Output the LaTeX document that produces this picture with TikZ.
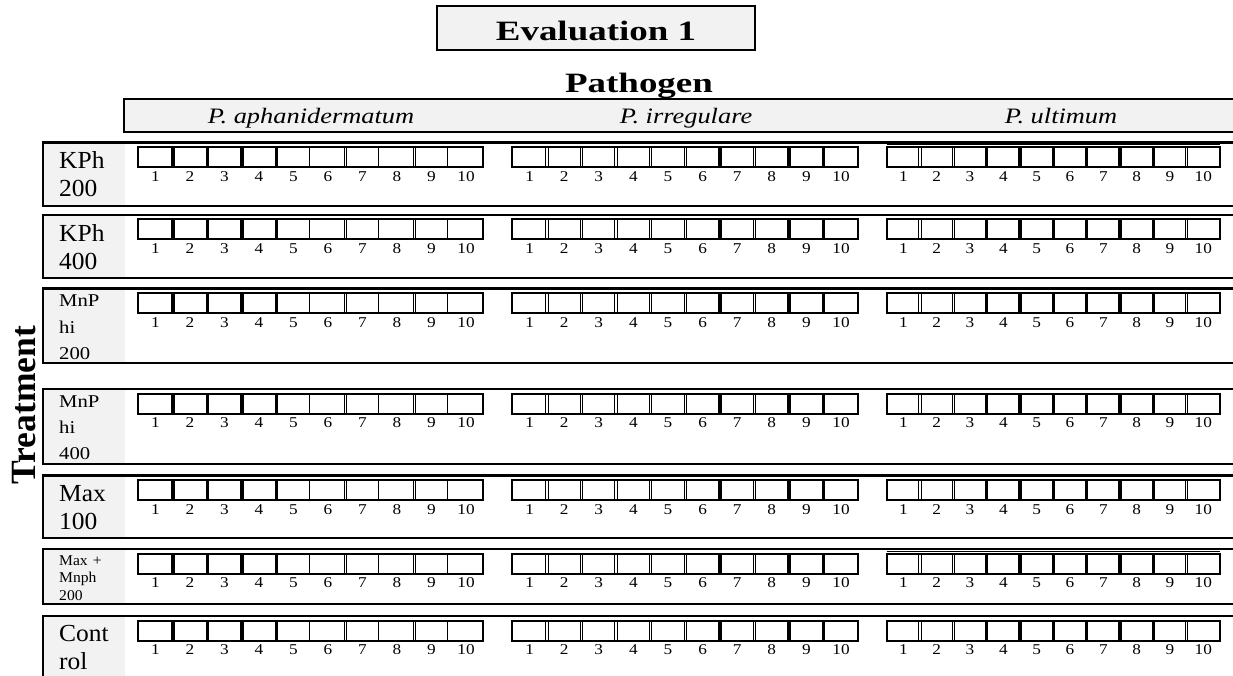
\documentclass[tikz,border=0pt]{standalone}
\usepackage{fontspec}
\setmainfont{Liberation Serif}
\newfontfamily\titlefont[FakeStretch=1.32]{Liberation Serif}
\newfontfamily\headfont[FakeStretch=1.2]{Liberation Serif}
\newfontfamily\numfont[FakeStretch=1.15]{Liberation Serif}
\newfontfamily\rowfont[FakeStretch=1.04]{Liberation Serif}
\newfontfamily\narrowfont[FakeStretch=1.15]{Liberation Serif}
\usetikzlibrary{positioning}
\definecolor{boxgray}{RGB}{242,242,242}

\tikzset{
  rowbox/.style={line width=2.4pt},
  cellbox/.style={line width=2pt},
  thicksep/.style={line width=3.4pt},
  dblsep/.style={double, double distance=1.5pt, line width=0.9pt},
  numlabel/.style={font=\numfont\fontsize{15}{15}\selectfont, inner sep=0pt},
  headlabel/.style={font=\headfont\itshape\fontsize{22}{22}\selectfont, anchor=base, inner sep=0pt},
  biglabel/.style={font=\rowfont\fontsize{24.5}{28}\selectfont, text width=64pt, align=left, inner sep=0pt, anchor=base west},
  midlabel/.style={font=\narrowfont\fontsize{18}{26.3}\selectfont, text width=64pt, align=left, inner sep=0pt, anchor=base west},
  smalllabel/.style={font=\rowfont\fontsize{15}{17.5}\selectfont, text width=64pt, align=left, inner sep=0pt, anchor=base west}
}

\begin{document}
\begin{tikzpicture}[x=1pt,y=-1pt]

  \useasboundingbox (0,0) rectangle (1233,676);
  \clip (0,0) rectangle (1233,676);

  % Title box
  \draw[line width=2pt, fill=boxgray] (437,6) rectangle (755,50);
  \node[anchor=base, inner sep=0pt, font=\titlefont\bfseries\fontsize{28}{28}\selectfont] (eval) at (596,40.5) {Evaluation 1};
  \node[anchor=base, inner sep=0pt, font=\titlefont\bfseries\fontsize{28}{28}\selectfont] (pathogen) at (639,92.7) {Pathogen};

  % Pathogen header bar
  \draw[line width=2pt, fill=boxgray] (124,99) rectangle (1250,132);
  \node[headlabel] (aph) at (311,124) {P. aphanidermatum};
  \node[headlabel] (irr) at (686,124) {P. irregulare};
  \node[headlabel] (ult) at (1061,124) {P. ultimum};

  % Treatment
  \node[rotate=90, inner sep=0pt, font=\bfseries\fontsize{35.5}{35.5}\selectfont] (treat) at (24,405) {Treatment};

  % Row frames
  \foreach \t/\b in {142.5/206, 215/278, 288.5/363, 389/464, 475.5/538, 549/604, 616/700}{
    \fill[boxgray] (43,\t) rectangle (125,\b);
    \draw[rowbox] (43,\t) rectangle (1250,\b);
  }
  \draw[line width=1.2pt] (886.7,144.7) -- (1220,144.7);
  \draw[line width=1.2pt] (886.7,551.2) -- (1220,551.2);

  % Row labels
  \node[biglabel] (kph200) at (59,169) {KPh\\200};
  \node[biglabel] (kph400) at (59,241.7) {KPh\\400};
  \node[midlabel] (mnp200) at (59,306.7) {MnP\\hi\\200};
  \node[midlabel] (mnp400) at (59,407.2) {MnP\\hi\\400};
  \node[biglabel] (max100) at (59,501.7) {Max\\100};
  \node[smalllabel] (maxmnph) at (59,565) {Max +\\Mnph\\200};
  \node[biglabel] (control) at (59,641.7) {Cont\\rol};

  % Score boxes 1 to 10
  \foreach \t [count=\r] in {142.5,215,288.5,389,475.5,549,616}{
    \foreach \gx/\gw [count=\g] in {138.3/34.5, 512.3/34.6, 886.7/33.33}{
      \draw[cellbox] (\gx,\t+4.5) rectangle (\gx+10*\gw,\t+24.5);
      \foreach \n in {1,...,10}
        \node[numlabel] (c\r-\g-\n) at (\gx+\n*\gw-0.5*\gw,\t+34) {\n};
    }
    % group 1
    \foreach \k in {1,...,4}
      \draw[thicksep] (138.3+\k*34.5,\t+4.5) -- (138.3+\k*34.5,\t+24.5);
    \foreach \k in {5,...,9}
      \draw[dblsep] (138.3+\k*34.5,\t+5.5) -- (138.3+\k*34.5,\t+23.5);
    % group 2
    \foreach \k in {1,2,3,4,5,7}
      \draw[dblsep] (512.3+\k*34.6,\t+5.5) -- (512.3+\k*34.6,\t+23.5);
    \foreach \k in {6,8,9}
      \draw[thicksep] (512.3+\k*34.6,\t+4.5) -- (512.3+\k*34.6,\t+24.5);
    % group 3
    \foreach \k in {1,2,9}
      \draw[dblsep] (886.7+\k*33.33,\t+5.5) -- (886.7+\k*33.33,\t+23.5);
    \foreach \k in {3,...,8}
      \draw[thicksep] (886.7+\k*33.33,\t+4.5) -- (886.7+\k*33.33,\t+24.5);
  }

\end{tikzpicture}
\end{document}
